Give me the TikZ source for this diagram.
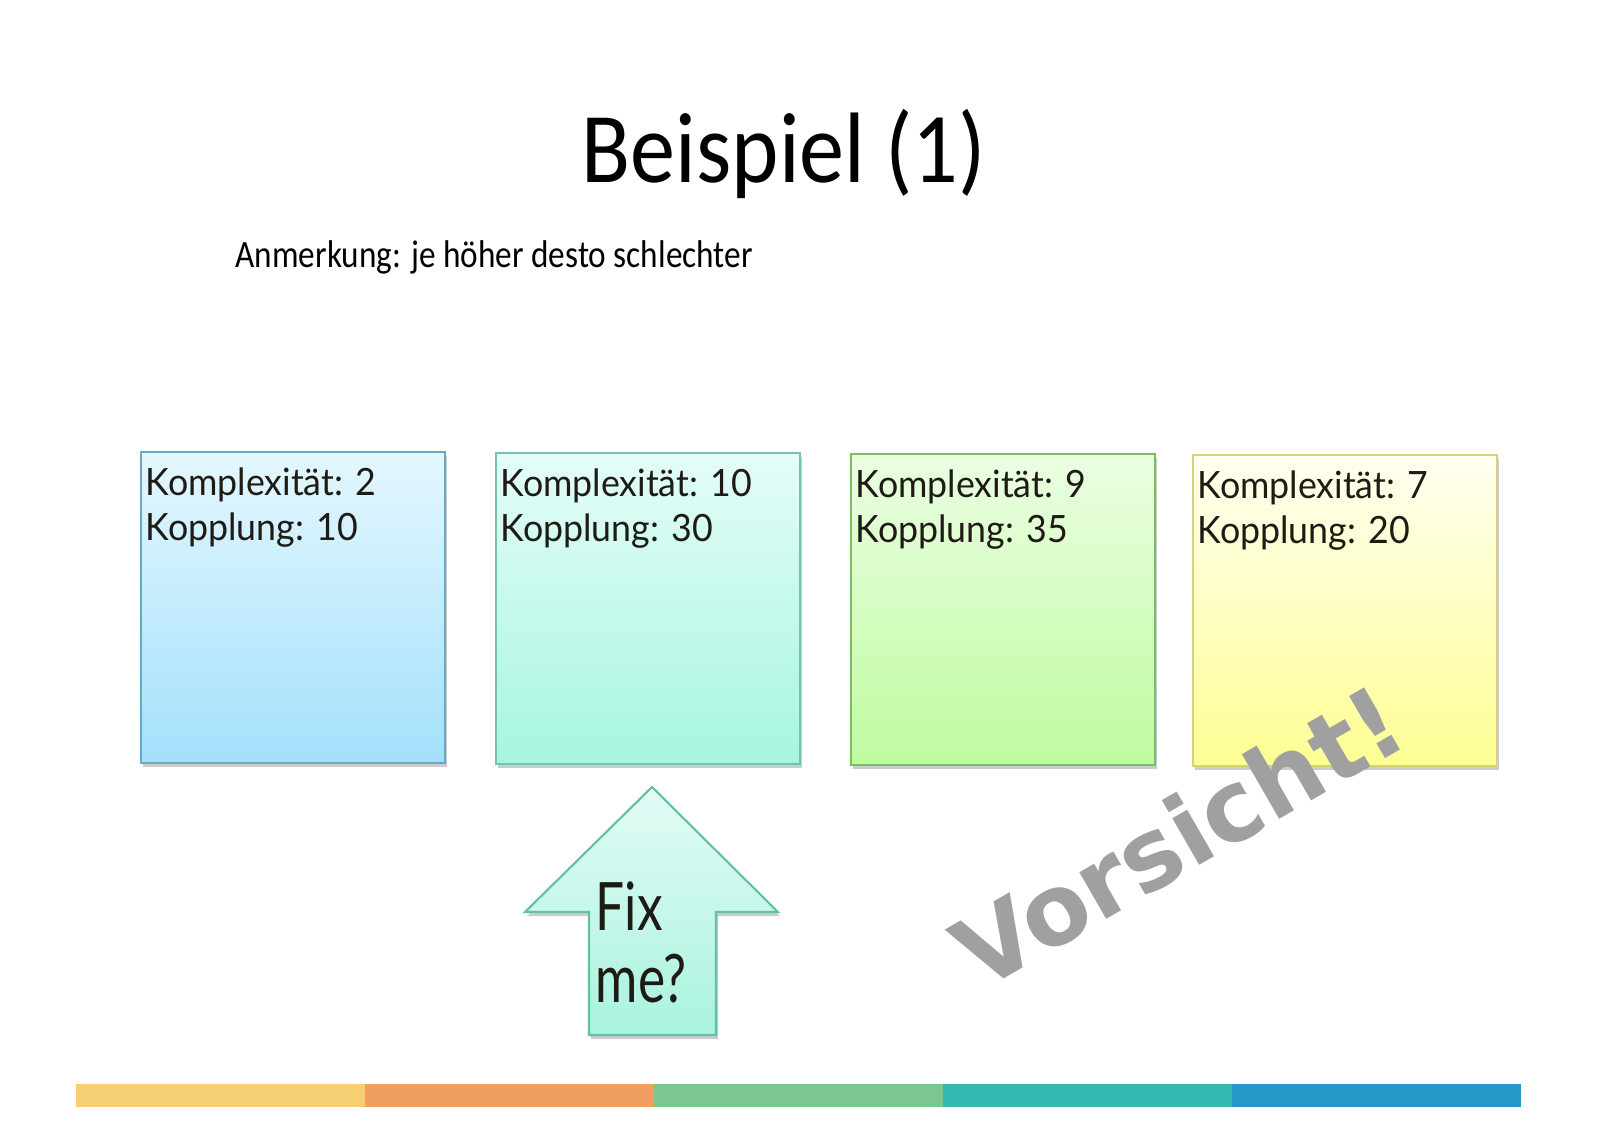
\documentclass[tikz,border=0pt]{standalone}
\usepackage{fontspec}
\setmainfont{Carlito}
\newfontfamily\titlefont[FakeStretch=0.86]{Carlito}
\newfontfamily\headfont[FakeStretch=0.9]{Carlito}
\newfontfamily\boxfont[FakeStretch=0.95]{Lato}
\newfontfamily\fixfont[FakeStretch=0.77]{Lato}
\newfontfamily\warnfont{DejaVu Sans}
\usetikzlibrary{shadows}

\definecolor{textdark}{HTML}{1E1A14}
\definecolor{bluetop}{HTML}{E4F7FF}
\definecolor{bluebot}{HTML}{A3E0FB}
\definecolor{blueedge}{HTML}{68A9C8}
\definecolor{mintop}{HTML}{E4FDF8}
\definecolor{minbot}{HTML}{A6F5E1}
\definecolor{minedge}{HTML}{72C4AE}
\definecolor{greentop}{HTML}{EBFFE3}
\definecolor{greenbot}{HTML}{BFFB9F}
\definecolor{greenedge}{HTML}{7CBD5D}
\definecolor{yellowtop}{HTML}{FFFFF0}
\definecolor{yellowbot}{HTML}{FEFE93}
\definecolor{yellowedge}{HTML}{D6D27B}
\definecolor{arrowtop}{HTML}{E3FBF5}
\definecolor{arrowbot}{HTML}{A8F3DF}
\definecolor{arrowedge}{HTML}{63C0A3}
\definecolor{metal}{HTML}{A0A0A0}
\definecolor{barA}{HTML}{F6CF72}
\definecolor{barB}{HTML}{F09E62}
\definecolor{barC}{HTML}{7CC68F}
\definecolor{barD}{HTML}{33B8B3}
\definecolor{barE}{HTML}{2499C7}

\begin{document}
\begin{tikzpicture}[x=0.1mm, y=-0.1mm,
    softshadow/.style={drop shadow={shadow xshift=0.2mm, shadow yshift=-0.4mm, opacity=0.2, fill=black}},
    modbox/.style={draw, line width=0.6pt, minimum width=30.4mm, minimum height=31.1mm, inner sep=0pt, softshadow},
    modtext/.style={anchor=north west, inner sep=0pt, align=left, text=textdark, font=\boxfont\fontsize{10.7pt}{12.9pt}\selectfont},
    arrowshape/.style={draw=arrowedge, line width=0.6pt, top color=arrowtop, bottom color=arrowbot, softshadow}]
  \fill[white] (0,0) rectangle (1600,1130);
  \useasboundingbox (0,0) rectangle (1600,1130);

  % heading
  \node[anchor=base, inner sep=0pt, font=\headfont\fontsize{28.5pt}{30pt}\selectfont] (title) at (784,182) {Beispiel (1)};
  \node[anchor=base west, inner sep=0pt, font=\titlefont\fontsize{11pt}{13pt}\selectfont] (note) at (235,267) {Anmerkung: je höher desto schlechter};

  % modules
  \node[modbox, draw=blueedge, top color=bluetop, bottom color=bluebot] (m1) at (293,607.5) {};
  \node[modbox, draw=minedge, top color=mintop, bottom color=minbot] (m2) at (648,608.5) {};
  \node[modbox, draw=greenedge, top color=greentop, bottom color=greenbot] (m3) at (1003,609.5) {};
  \node[modbox, draw=yellowedge, top color=yellowtop, bottom color=yellowbot] (m4) at (1345,610.5) {};

  \node[modtext] (t1) at ([shift={(5,16)}]m1.north west) {Komplexität: 2\\Kopplung: 10};
  \node[modtext] (t2) at ([shift={(5,16)}]m2.north west) {Komplexität: 10\\Kopplung: 30};
  \node[modtext] (t3) at ([shift={(5,16)}]m3.north west) {Komplexität: 9\\Kopplung: 35};
  \node[modtext] (t4) at ([shift={(5,16)}]m4.north west) {Komplexität: 7\\Kopplung: 20};

  % fix arrow
  \coordinate (tip) at (652,787);
  \coordinate (rw) at (778,912);
  \coordinate (rs) at (716,912);
  \coordinate (rb) at (716,1035);
  \coordinate (lb) at (589,1035);
  \coordinate (ls) at (589,912);
  \coordinate (lw) at (525,912);
  \draw[arrowshape] (tip) -- (rw) -- (rs) -- (rb) -- (lb) -- (ls) -- (lw) -- cycle;
  \node[anchor=north west, inner sep=0pt, align=left, text=textdark, font=\fixfont\fontsize{19pt}{20.5pt}\selectfont] (fix) at (595,881) {Fix\\me?};

  % warning
  \node[inner sep=0pt, rotate=30, text=metal, font=\warnfont\bfseries\fontsize{28pt}{30pt}\selectfont] (warn) at (1178,836) {Vorsicht!};

  % colour bar
  \foreach \c [count=\i from 0] in {barA,barB,barC,barD,barE}
    \fill[\c] (76+289*\i,1084) rectangle ++(289,23);
\end{tikzpicture}
\end{document}
